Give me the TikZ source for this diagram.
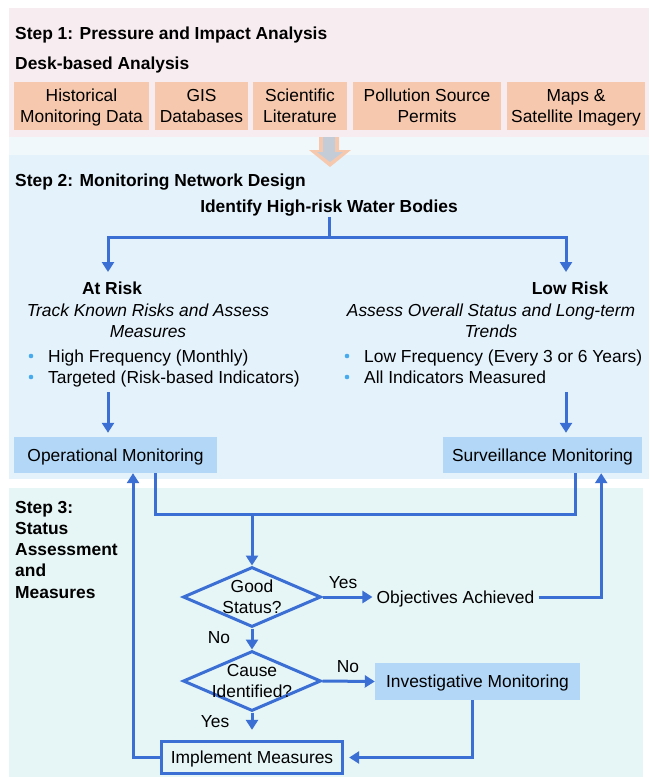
\documentclass[tikz,border=0pt]{standalone}
\usepackage{fontspec}
\setmainfont{Liberation Sans}
\usetikzlibrary{arrows.meta,shapes.geometric,calc}
\definecolor{pinkbg}{HTML}{F7EDF0}
\definecolor{peach}{HTML}{F6C9AE}
\definecolor{gapbg}{HTML}{F1F8FC}
\definecolor{bluebg}{HTML}{E4F2FC}
\definecolor{greenbg}{HTML}{E6F5F5}
\definecolor{boxblue}{HTML}{B3D7F6}
\definecolor{lc}{HTML}{3B6FD3}
\definecolor{arrgray}{HTML}{C4CCD8}
\definecolor{bul}{HTML}{45AAEE}
\newcommand\myfs{\fontsize{17.4}{20.9}\selectfont}
\begin{document}
\begin{tikzpicture}[x=1pt,y=-1pt,
  txt/.style={font=\myfs, inner sep=0pt},
  one/.style={txt, text height=12.5pt, text depth=0pt},
  bold/.style={font=\myfs\bfseries},
  ital/.style={font=\myfs\itshape},
  ob/.style={txt, fill=peach, align=center, text depth=0pt, minimum height=48pt},
  bb/.style={one, fill=boxblue, minimum height=36pt},
  dia/.style={diamond, draw=lc, line width=3pt, minimum width=138pt, minimum height=60pt, inner sep=0pt},
  ln/.style={draw=lc, line width=3pt},
  arr/.style={ln, -{Triangle[width=12pt,length=10pt]}}]
\useasboundingbox (0,0) rectangle (649,777);
% panels
\fill[white] (0,0) rectangle (649,777);
\fill[pinkbg] (9,8) rectangle (649,137);
\fill[gapbg] (9,137) rectangle (649,155);
\fill[bluebg] (9,155) rectangle (649,479);
\fill[greenbg] (9,488) rectangle (643,777);
% step 1
\node[one,bold,anchor=west] (s1) at (15,33) {Step 1: Pressure and Impact Analysis};
\node[one,bold,anchor=west] (desk) at (15,63) {Desk-based Analysis};
\node[ob, minimum width=135pt] (h1) at (81.5,106) {Historical\\Monitoring Data};
\node[ob, minimum width=93pt] (h2) at (201.5,106) {GIS\\Databases};
\node[ob, minimum width=94pt] (h3) at (300,106) {Scientific\\Literature};
\node[ob, minimum width=148pt] (h4) at (427,106) {Pollution Source\\Permits};
\node[ob, minimum width=138pt] (h5) at (576,106) {Maps \&\\Satellite Imagery};
% big arrow
\fill[peach] (319,137) -- (339,137) -- (339,150) -- (351,150) -- (330,167) -- (309,150) -- (319,150) -- cycle;
\fill[arrgray] (323,137) -- (335,137) -- (335,152) -- (343,152) -- (330,162) -- (317,152) -- (323,152) -- cycle;
% step 2
\node[one,bold,anchor=west] (s2) at (15,180) {Step 2: Monitoring Network Design};
\node[one,bold] (idn) at (329,206) {Identify High-risk Water Bodies};
\node[one,bold] (atr) at (112,288) {At Risk};
\node[txt,ital,align=center] (atd) at (148,320.5) {Track Known Risks and Assess\\Measures};
\node[one,anchor=west] (b1) at (48,356) {High Frequency (Monthly)};
\node[one,anchor=west] (b2) at (48,377) {Targeted (Risk-based Indicators)};
\fill[bul] (31,356) circle (2.3pt);
\fill[bul] (31,377) circle (2.3pt);
\node[one,bold] (lrk) at (570,288) {Low Risk};
\node[txt,ital,align=center] (lrd) at (491,320.5) {Assess Overall Status and Long-term\\Trends};
\node[one,anchor=west] (b3) at (364,356) {Low Frequency (Every 3 or 6 Years)};
\node[one,anchor=west] (b4) at (364,377) {All Indicators Measured};
\fill[bul] (347,356) circle (2.3pt);
\fill[bul] (347,377) circle (2.3pt);
\node[bb,minimum width=203pt] (op) at (115.5,455) {Operational Monitoring};
\node[bb,minimum width=199pt] (sv) at (542.5,455) {Surveillance Monitoring};
% step 3
\node[txt,bold,align=left,anchor=north west,font=\fontsize{17.4}{21.2}\selectfont\bfseries] (s3) at (15,501) {Step 3:\\Status\\Assessment\\and\\Measures};
\node[dia] (d1) at (252,597) {};
\node[txt,align=center] (d1t) at (d1) {Good\\Status?};
\node[dia] (d2) at (252,681) {};
\node[txt,align=center] (d2t) at (d2) {Cause\\Identified?};
\node[one] (y1) at (343,582) {Yes};
\node[one] (n1) at (219,637) {No};
\node[one] (n2) at (348,666) {No};
\node[one] (y2) at (215,721) {Yes};
\node[one,inner xsep=4pt] (obj) at (455.5,597) {Objectives Achieved};
\node[bb,minimum width=205pt,minimum height=37pt] (inv) at (477.5,681.5) {Investigative Monitoring};
\node[one,draw=lc,line width=3.3pt,minimum width=181pt,minimum height=32pt] (imp) at (252,757.5) {Implement Measures};
% connectors step 2
\coordinate (br) at (329,237);
\coordinate (tL) at (108,272);
\coordinate (tR) at (566,272);
\draw[ln,shorten <=5pt] (idn.south) -- (br);
\draw[arr] (br) -| (tL);
\draw[arr] (br) -| (tR);
\coordinate (sL) at (108,392);
\coordinate (sR) at (566,392);
\draw[arr,shorten >=4pt] (sL) -- (sL |- op.north);
\draw[arr,shorten >=4pt] (sR) -- (sR |- sv.north);
% connectors step 3
\coordinate (mg) at (252,514);
\draw[ln] ([xshift=39.5pt]op.south) |- (mg) -| ([xshift=32.5pt]sv.south);
\draw[arr] (mg) -- (d1.north);
\draw[arr] (d1.east) -- (obj.west);
\draw[arr] (obj.east) -| ([xshift=-41pt]sv.south east);
\draw[arr] (d1.south) -- (d2.north);
\draw[arr] (d2.east) -- (inv.west);
\draw[arr,shorten >=10pt] (d2.south) -- (imp.north);
\draw[arr,shorten >=5pt] ([xshift=-5.5pt]inv.south) |- (imp.east);
\draw[arr] (imp.west) -| ([xshift=17.5pt]op.south);
\end{tikzpicture}
\end{document}
